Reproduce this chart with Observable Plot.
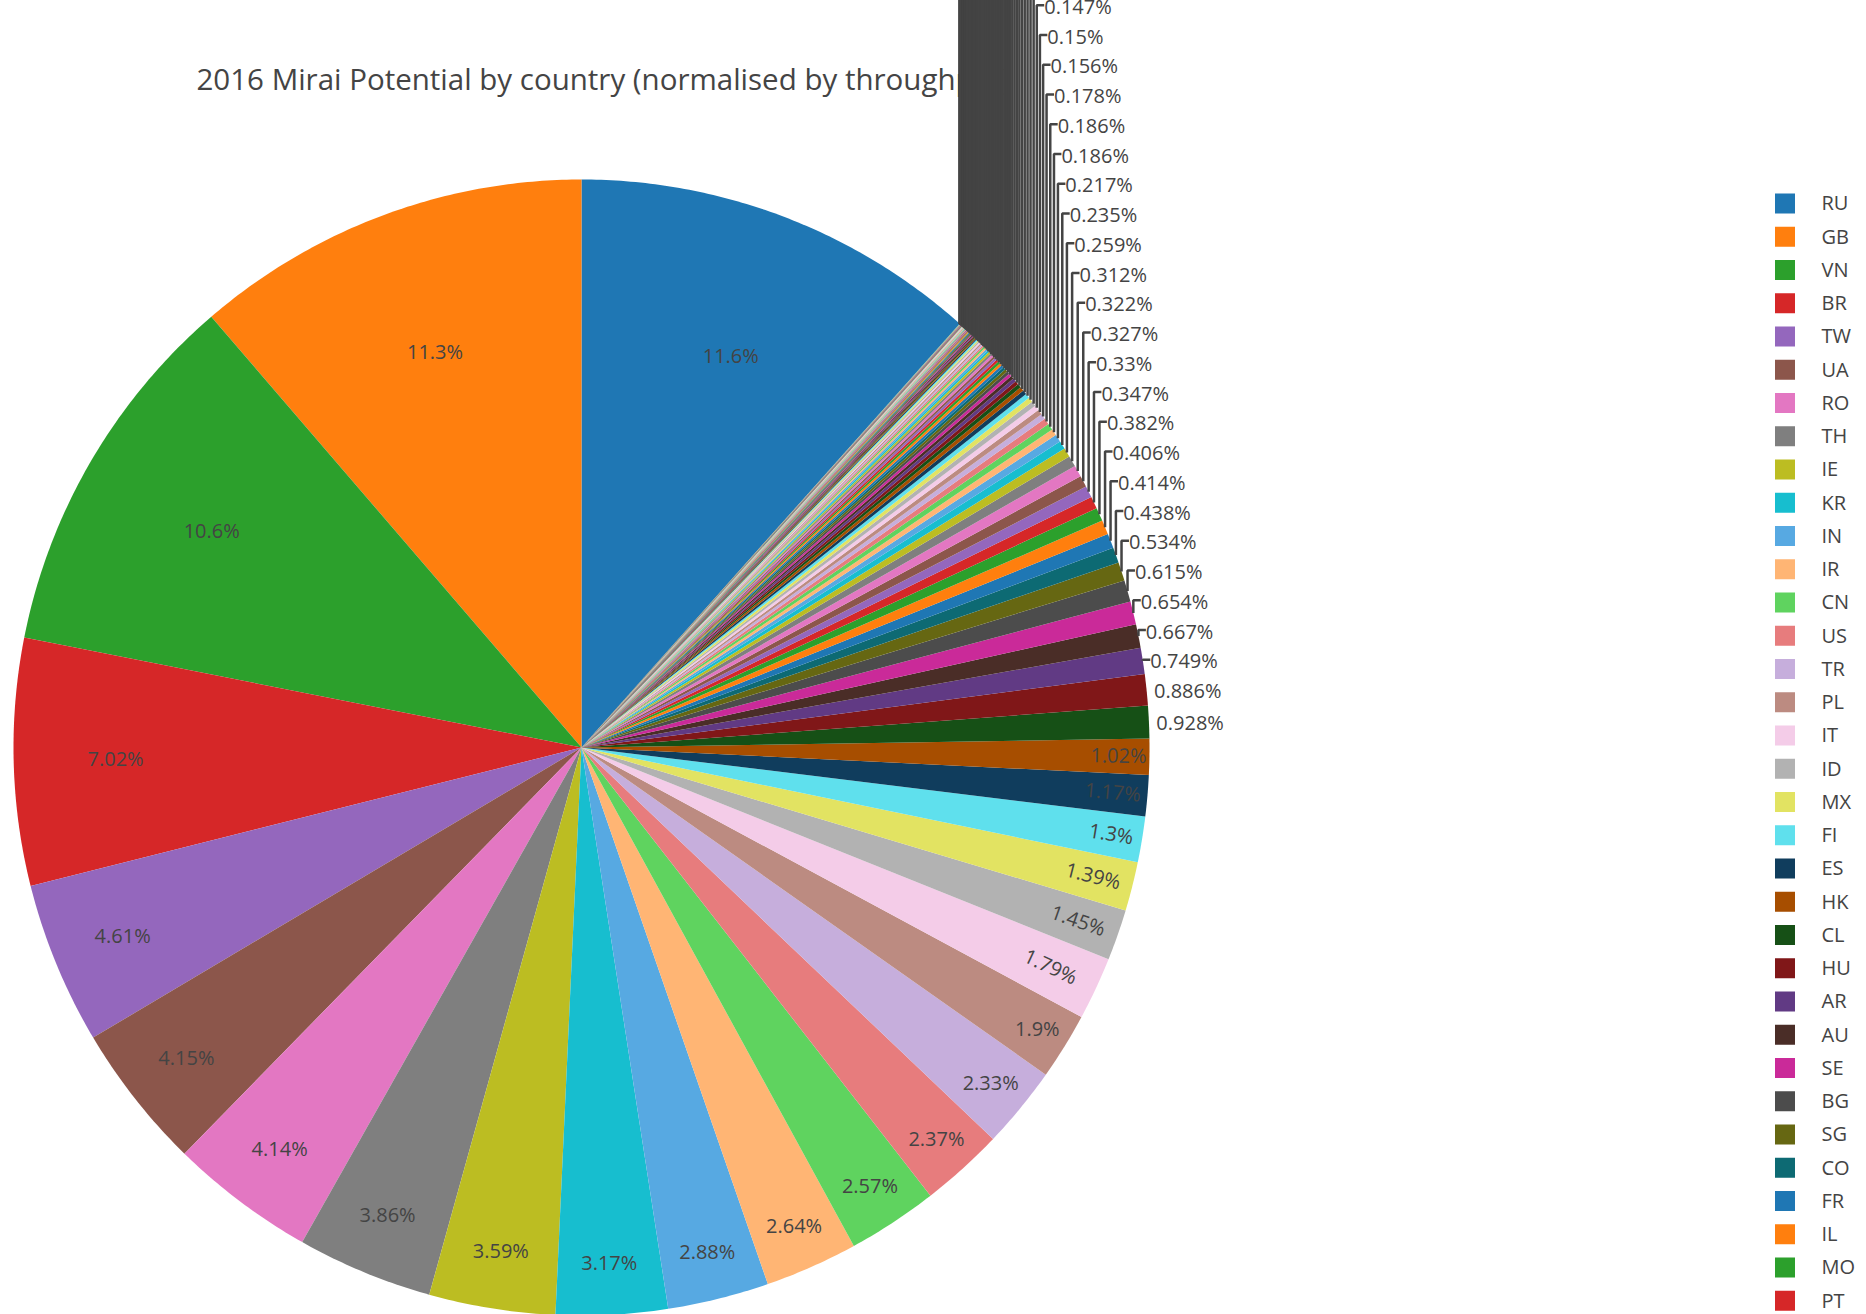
<!DOCTYPE html>
<html>
<head>
<meta charset="utf-8">
<script src="https://cdn.jsdelivr.net/npm/d3@7"></script>
<script src="https://cdn.jsdelivr.net/npm/@observablehq/plot@0.6"></script>
<style>
  html, body { margin: 0; padding: 0; overflow: hidden; background: #fff; }
  #wrap { position: relative; width: 1866px; height: 1314px; }
  #chart { position: absolute; left: 0; top: 0; }
  #legend { position: absolute; left: 1750px; top: 0; }
</style>
</head>
<body>
<div id="wrap"><div id="chart"></div><div id="legend"></div></div>
<script>
// ---------------- data ----------------
const title = "2016 Mirai Potential by country (normalised by throughput)";

const topCountries = ["RU","GB","VN","BR","TW","UA","RO","TH","IE","KR","IN","IR","CN","US","TR","PL","IT",
  "ID","MX","FI","ES","HK","CL","HU","AR","AU","SE","BG","SG","CO","FR","IL","MO","PT"];
const topShares = [11.6, 11.3, 10.6, 7.02, 4.61, 4.15, 4.14, 3.86, 3.59, 3.17, 2.88, 2.64, 2.57, 2.37, 2.33, 1.9, 1.79,
  1.45, 1.39, 1.3, 1.17, 1.02, 0.928, 0.886, 0.749, 0.667, 0.654, 0.615, 0.534, 0.438, 0.414, 0.406, 0.382, 0.347];

const midCountries = ["NL","DE","CZ","GR","MY","PH","ZA","CA","JP","AT","BE","SK","LT"];
const midShares = [0.33, 0.327, 0.322, 0.312, 0.259, 0.235, 0.217, 0.186, 0.186, 0.178, 0.156, 0.15, 0.147];

const smallCountries = ["LV","EE","HR","RS","BY","KZ","VE","PE","EC","EG","MA",
  "DK","NO","CH","NZ","PK","BD","LK","NP","MM","KH","LA","MN","GE","AM","AZ","MD","SI","BA","MK","AL","ME",
  "CY","MT","LU","IS","UY","PY","BO","CR","PA","GT","HN","SV","NI","DO","PR","JM","TT","CU","KE","NG","GH",
  "UG","TZ","ZW","ZM","MZ","AO","CM","CI","SN","ET","SD","LY","IQ","SY","JO","LB","KW","QA","BH","OM","YE",
  "AF","UZ","KG","TJ","TM","BN","MV","BT","FJ","PG","NC","RE","MU"];
const smallShares = [0.145, 0.139, 0.132, 0.125, 0.118, 0.112, 0.105, 0.099, 0.094, 0.089, 0.084,
  0.079, 0.077, 0.075, 0.072, 0.070, 0.068, 0.066, 0.063, 0.061, 0.059, 0.057, 0.055, 0.053,
  0.050, 0.048, 0.046, 0.044, 0.042, 0.040, 0.038, 0.037, 0.035, 0.034,
  0.032, 0.031, 0.030, 0.028, 0.027, 0.026, 0.025, 0.024, 0.023, 0.022,
  0.021, 0.020, 0.019, 0.018, 0.017, 0.016, 0.015, 0.014,
  0.013, 0.012, 0.012, 0.011, 0.010, 0.010, 0.009, 0.009, 0.008, 0.008,
  0.007, 0.007, 0.007, 0.006, 0.006, 0.006, 0.005, 0.005, 0.005, 0.005,
  0.004, 0.004, 0.004, 0.004, 0.004, 0.003, 0.003, 0.003, 0.003, 0.003, 0.002, 0.002, 0.002, 0.002, 0.002];

const baseColors = ["#1f77b4","#ff7f0e","#2ca02c","#d62728","#9467bd","#8c564b","#e377c2","#7f7f7f","#bcbd22","#17becf"];

// ---------------- derived ----------------
const countries = topCountries.concat(midCountries, smallCountries);
const shares = topShares.concat(midShares, smallShares);
const shade = (c, d) => { const h = d3.hsl(c); h.l = Math.max(0, Math.min(1, h.l + d)); return h.formatHex(); };
const palette = baseColors.concat(baseColors.map(c => shade(c, 0.2)), baseColors.map(c => shade(c, -0.2)));

const W = 1866, H = 1314, CX = 581, CY = 747, R = 568;
const FONT = "'Open Sans', sans-serif", FS = 20, LH = 29.75, INK = "#444";
const fmt = d3.format(".3~r");
const total = d3.sum(shares);

let cum = 0;
const slices = shares.map((v, i) => {
  const a0 = 2 * Math.PI * (shares[0] - cum) / total;
  const a1 = 2 * Math.PI * (shares[0] - cum - v) / total;
  cum += v;
  return {country: countries[i], value: v, a0, a1, mid: (a0 + a1) / 2, half: Math.PI * v / total,
          text: fmt(100 * v / total) + "%"};
});

// polygons (unit coordinates, y up)
const poly = [];
for (const s of slices) {
  poly.push({country: s.country, x: 0, y: 0});
  const n = Math.max(1, Math.ceil(Math.abs(s.a0 - s.a1) / (Math.PI / 360)));
  for (let k = 0; k <= n; k++) {
    const a = s.a0 + (s.a1 - s.a0) * k / n;
    poly.push({country: s.country, x: Math.sin(a), y: Math.cos(a)});
  }
}

// text measurement
const ctx = document.createElement("canvas").getContext("2d");
ctx.font = `${FS}px 'Open Sans'`;
const calcRotate = t => (180 / Math.PI * t + 720) % 180 - 90;
function maxHalf(a, ha, r) {
  const q = a + 1 / (2 * Math.tan(ha));
  return r * Math.min(1 / (Math.sqrt(q * q + 0.5) + q), 1 / (Math.sqrt(a * a + 0.5) + a));
}
function insideTransform(w, h, s) {
  const rIns = Math.min(1 / (1 + 1 / Math.sin(s.half)), 0.5);
  const hor = {scale: rIns * R * 2 / Math.hypot(w, h), rCenter: 1 - rIns, rotate: 0};
  if (hor.scale >= 1) return hor;
  const rr = Math.max(0, R - 6);
  let a = w / h, m = maxHalf(a, s.half, rr);
  const rad = {scale: m * 2 / h, rCenter: Math.cos(m / rr) - a * m / rr, rotate: calcRotate(s.mid)};
  a = h / w; m = maxHalf(a, s.half, rr);
  const tan = {scale: m * 2 / w, rCenter: Math.cos(m / rr) - a * m / rr, rotate: calcRotate(s.mid + Math.PI / 2)};
  return [hor, rad, tan].reduce((p, c) => c.scale > p.scale ? c : p);
}

const inside = [], outsideRaw = [];
for (const s of slices) {
  const w = ctx.measureText(s.text).width, h = LH;
  const t = insideTransform(w, h, s);
  if (t.scale >= 1) {
    inside.push({text: s.text, x: Math.sin(s.mid) * t.rCenter, y: Math.cos(s.mid) * t.rCenter, rotate: t.rotate});
  } else {
    const px = R * Math.sin(s.mid), py = -R * Math.cos(s.mid);
    const dy = (py < 0 ? -h : h) / 2;
    outsideRaw.push({s, px, py, yMid: py + dy / (1 + px * px / (py * py)), h});
  }
}
// scoot labels in upper right quadrant (equator first)
outsideRaw.sort((a, b) => b.py - a.py);
const outside = [], leaders = [];
let prev = null;
for (const o of outsideRaw) {
  let y = o.yMid;
  if (prev !== null && prev - o.h < y) y = prev - o.h;
  const moved = Math.abs(y - o.yMid) > 1e-9;
  prev = y;
  outside.push({text: o.s.text, x: (o.px + o.h / 4) / R, y: -y / R});
  if (moved) {
    leaders.push({country: o.s.country, x: o.px / R, y: -o.py / R});
    leaders.push({country: o.s.country, x: o.px / R, y: -y / R});
    leaders.push({country: o.s.country, x: (o.px + o.h / 4) / R, y: -y / R});
  }
}

const colorScale = {type: "ordinal", domain: countries, range: palette};

const chart = Plot.plot({
  width: W, height: H, margin: 0,
  style: {fontFamily: FONT, background: "white", color: INK},
  x: {domain: [-1, 1], range: [CX - R, CX + R], axis: null},
  y: {domain: [-1, 1], range: [CY + R, CY - R], axis: null},
  color: colorScale,
  marks: [
    Plot.text([title], {text: d => d, frameAnchor: "top-left", dx: 196, dy: 80, textAnchor: "start",
      lineAnchor: "middle", fontSize: 29.5, fill: INK}),
    Plot.line(poly, {x: "x", y: "y", z: "country", fill: "country", stroke: "none", curve: "linear"}),
    Plot.text(inside, {x: "x", y: "y", text: "text", rotate: "rotate", fontSize: FS, fill: INK,
      textAnchor: "middle", lineAnchor: "middle"}),
    Plot.line(leaders, {x: "x", y: "y", z: "country", stroke: INK, strokeWidth: 2.5,
      strokeLinejoin: "miter", strokeLinecap: "butt", curve: "linear"}),
    Plot.text(outside, {x: "x", y: "y", text: "text", fontSize: FS, fill: INK, dy: 2,
      textAnchor: "start", lineAnchor: "middle"})
  ]
});
document.getElementById("chart").appendChild(chart);

const LEG_STEP = 33.25, LEG_FIRST = 203.5;
const legend = Plot.plot({
  width: 116, height: H, margin: 0,
  style: {fontFamily: FONT, background: "transparent", color: INK},
  x: {domain: [0, 1], range: [25, 45], axis: null},
  y: {type: "band", domain: countries, padding: 0, axis: null,
      range: [LEG_FIRST - LEG_STEP / 2, LEG_FIRST - LEG_STEP / 2 + LEG_STEP * countries.length]},
  color: colorScale,
  marks: [
    Plot.barX(countries, {x1: 0, x2: 1, y: d => d, fill: d => d,
      insetTop: (LEG_STEP - 20) / 2, insetBottom: (LEG_STEP - 20) / 2}),
    Plot.text(countries, {x: 1, y: d => d, text: d => d, dx: 26, textAnchor: "start",
      lineAnchor: "middle", fontSize: FS, fill: INK})
  ]
});
document.getElementById("legend").appendChild(legend);
</script>
</body>
</html>
